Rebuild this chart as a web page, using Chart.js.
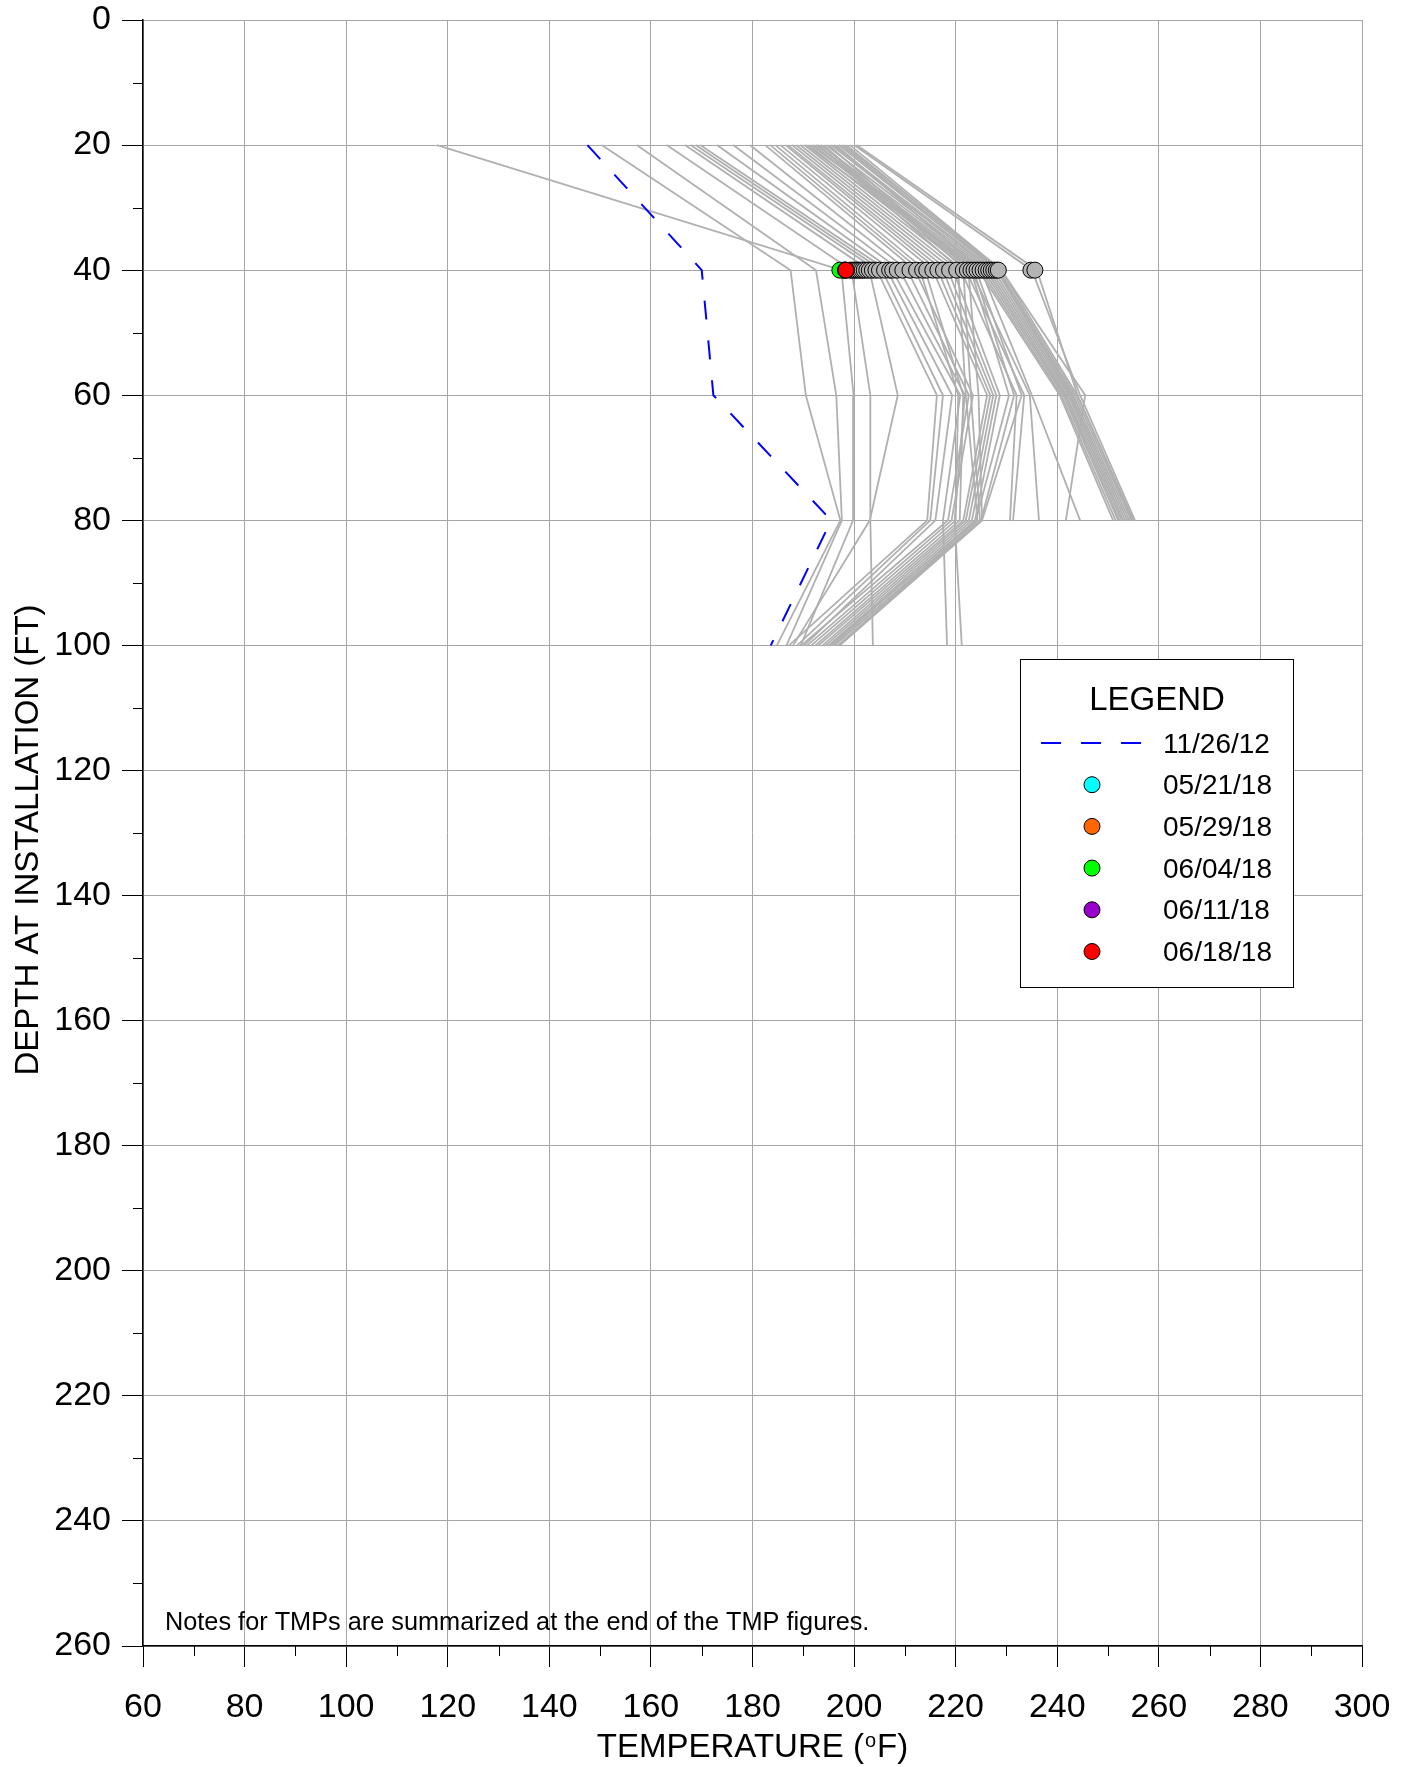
<!DOCTYPE html>
<html>
<head>
<meta charset="utf-8">
<script src="https://cdn.jsdelivr.net/npm/chart.js@4.4.1/dist/chart.umd.min.js"></script>
<style>
  html, body { margin: 0; padding: 0; background: #fff; }
  #wrap { width: 1404px; height: 1767px; position: relative; }
</style>
</head>
<body>
<div id="wrap"><canvas id="tmp"></canvas></div>
<script>
// depth of each sensor (ft)
const depthsFt = [20, 40, 60, 80, 100];

// tick labels
const tempTicks = [60, 80, 100, 120, 140, 160, 180, 200, 220, 240, 260, 280, 300];
const depthTicks = [0, 20, 40, 60, 80, 100, 120, 140, 160, 180, 200, 220, 240, 260];

// baseline profile 11/26/12 (oF at each depth)
const baselineLabel = '11/26/12';
const baselineTemps = [147.5, 170.0, 172.3, 195.5, 183.6];

// earlier readings, one profile per date (oF at 20, 40, 60, 80, 100 ft)
const historicProfiles = [
  [150.3, 187.5, 190.5, 197.3, 184.8],
  [157.2, 192.5, 196.5, 197.6, 186.7],
  [117.9, 197.5, 199.9, 199.8, 189.5],
  [163.1, 199.5, 203.2, 203.2, 203.7],
  [166.7, 203.0, 208.6, 203.1, 188.0],
  [167.8, 204.5, 216.3, 214.4, 187.2],
  [168.8, 205.5, 217.5, 215.0, 188.8],
  [169.7, 206.5, 219.3, 216.0, 190.2],
  [173.0, 207.5, 220.9, 217.5, 218.3],
  [176.2, 209.0, 221.8, 219.8, 221.2],
  [179.5, 210.5, 222.6, 218.5, 189.6],
  [182.5, 212.0, 223.4, 219.2, 190.8],
  [183.5, 213.0, 220.5, 220.0, 191.6],
  [184.5, 214.0, 221.5, 220.8, 192.4],
  [185.5, 215.5, 226.2, 221.5, 193.0],
  [186.5, 216.5, 226.8, 222.0, 193.8],
  [187.0, 217.5, 227.4, 222.6, 194.4],
  [187.8, 218.5, 228.0, 223.2, 195.0],
  [188.6, 219.5, 228.7, 223.8, 195.6],
  [189.4, 220.5, 222.0, 224.3, 196.2],
  [190.2, 221.5, 223.0, 224.8, 196.8],
  [191.0, 222.5, 224.5, 225.2, 197.2],
  [192.0, 223.0, 230.5, 224.0, 195.2],
  [192.8, 223.5, 231.5, 225.0, 196.0],
  [193.5, 224.0, 233.0, 225.2, 197.0],
  [193.0, 221.0, 232.0, 230.7, null],
  [194.0, 222.0, 233.5, 231.3, null],
  [195.0, 223.0, 234.6, 236.4, null],
  [196.5, 225.0, 235.0, 244.5, null],
  [198.0, 229.0, 245.5, 241.7, null],
  [190.5, 224.5, 240.5, 251.0, null],
  [191.5, 225.0, 240.8, 251.5, null],
  [192.5, 225.5, 241.2, 252.0, null],
  [193.5, 226.0, 241.5, 252.3, null],
  [194.5, 226.5, 241.8, 252.7, null],
  [195.5, 227.0, 242.2, 253.0, null],
  [196.0, 227.5, 242.5, 253.4, null],
  [197.0, 228.0, 242.8, 253.8, null],
  [197.5, 228.3, 243.1, 254.2, null],
  [198.5, 228.6, 243.5, 254.6, null],
  [199.2, 229.0, 243.9, 255.0, null],
  [200.0, 235.0, 244.5, 255.3, null],
  [200.5, 236.0, 244.0, 254.8, null]
];

// earlier single readings at the 40 ft sensor (oF)
const historicTemps40 = [
  199.2, 199.6, 200.0, 200.4, 200.8, 201.2, 201.6, 202.0, 202.5, 203.0,
  203.6, 204.3, 205.0, 206.0, 207.0, 207.6, 208.5, 209.6, 211.0, 212.3,
  213.5, 214.3, 215.5, 216.5, 217.6, 218.8, 220.2, 221.5, 222.3, 223.0,
  223.6, 224.2, 224.8, 225.4, 226.0, 226.5, 227.0, 227.5, 228.0, 228.4,
  234.8, 235.6
];

// recent readings at 40 ft
const recentDates = ['05/21/18', '05/29/18', '06/04/18', '06/11/18', '06/18/18'];
const recentColors = ['#00ffff', '#ff6600', '#00ff00', '#9900cc', '#ff0000'];
const recentTemps40 = [198.0, 198.1, 197.2, 198.3, 198.4];
const recentDepth = 40;

const FONT = "'Liberation Sans', Arial, Helvetica, sans-serif";

const toPoints = (temps) =>
  depthsFt.map((d, i) => ({ x: temps[i], y: d })).filter(p => p.x != null);

const datasets = [];

// colored markers: last date on top
for (let i = recentDates.length - 1; i >= 0; i--) {
  datasets.push({
    label: recentDates[i],
    data: [{ x: recentTemps40[i], y: recentDepth }],
    showLine: false,
    pointRadius: 8,
    pointBackgroundColor: recentColors[i],
    pointBorderColor: '#000',
    pointBorderWidth: 1,
    order: recentDates.length - 1 - i
  });
}

datasets.push({
  label: 'historic 40 ft',
  data: historicTemps40.map(t => ({ x: t, y: recentDepth })),
  showLine: false,
  pointRadius: 8,
  pointBackgroundColor: '#b4b4b4',
  pointBorderColor: '#000',
  pointBorderWidth: 1,
  order: 10
});

datasets.push({
  label: baselineLabel,
  data: toPoints(baselineTemps),
  showLine: true,
  borderColor: '#0000ff',
  borderWidth: 2,
  borderDash: [19, 21],
  pointRadius: 0,
  order: 11
});

historicProfiles.forEach((p, i) => {
  datasets.push({
    label: 'historic ' + i,
    data: toPoints(p),
    showLine: true,
    borderColor: '#b0b0b0',
    borderWidth: 1.8,
    pointRadius: 0,
    order: 12
  });
});

// short unlabeled ticks between the labeled ones
const minorTicks = {
  id: 'minorTicks',
  afterDraw(chart) {
    const { ctx, scales: { x, y } } = chart;
    ctx.save();
    ctx.strokeStyle = '#000';
    ctx.lineWidth = 1;
    ctx.beginPath();
    for (let i = 0; i < tempTicks.length - 1; i++) {
      const px = Math.round(x.getPixelForValue((tempTicks[i] + tempTicks[i + 1]) / 2)) + 0.5;
      ctx.moveTo(px, x.top);
      ctx.lineTo(px, x.top + 10);
    }
    for (let i = 0; i < depthTicks.length - 1; i++) {
      const py = Math.round(y.getPixelForValue((depthTicks[i] + depthTicks[i + 1]) / 2)) + 0.5;
      ctx.moveTo(y.right - 10, py);
      ctx.lineTo(y.right, py);
    }
    ctx.stroke();
    ctx.restore();
  }
};

// axis titles, note and the boxed legend
const annotations = {
  id: 'annotations',
  afterDraw(chart) {
    const { ctx, chartArea } = chart;
    ctx.save();
    ctx.fillStyle = '#000';

    // x title with small raised "o"
    const cx = (chartArea.left + chartArea.right) / 2;
    const base = 1757;
    const a = 'TEMPERATURE (', b = 'F)';
    ctx.font = '33px ' + FONT;
    const wa = ctx.measureText(a).width, wb = ctx.measureText(b).width;
    ctx.font = '20px ' + FONT;
    const wo = ctx.measureText('o').width + 2;
    const sx = cx - (wa + wo + wb) / 2;
    ctx.textBaseline = 'alphabetic';
    ctx.textAlign = 'left';
    ctx.font = '33px ' + FONT;
    ctx.fillText(a, sx, base);
    ctx.font = '20px ' + FONT;
    ctx.fillText('o', sx + wa + 1, base - 10);
    ctx.font = '33px ' + FONT;
    ctx.fillText(b, sx + wa + wo, base);

    // y title
    ctx.save();
    ctx.translate(38, 840);
    ctx.rotate(-Math.PI / 2);
    ctx.textAlign = 'center';
    ctx.font = '33px ' + FONT;
    ctx.fillText('DEPTH AT INSTALLATION (FT)', 0, 0);
    ctx.restore();

    // note
    ctx.font = '25.3px ' + FONT;
    ctx.textAlign = 'left';
    ctx.fillText('Notes for TMPs are summarized at the end of the TMP figures.', 165, 1630);

    // legend box
    const bx = 1020, by = 659, bw = 273, bh = 328;
    ctx.fillStyle = '#fff';
    ctx.fillRect(bx, by, bw, bh);
    ctx.strokeStyle = '#000';
    ctx.lineWidth = 1;
    ctx.strokeRect(bx + 0.5, by + 0.5, bw, bh);
    ctx.fillStyle = '#000';
    ctx.textAlign = 'center';
    ctx.font = '33px ' + FONT;
    ctx.fillText('LEGEND', 1157, 710);

    ctx.textAlign = 'left';
    ctx.font = '28px ' + FONT;
    const rowH = 41.7;
    const ly = 743;
    ctx.strokeStyle = '#0000ff';
    ctx.lineWidth = 2;
    ctx.setLineDash([20, 20]);
    ctx.beginPath();
    ctx.moveTo(1041, ly);
    ctx.lineTo(1143, ly);
    ctx.stroke();
    ctx.setLineDash([]);
    ctx.fillText(baselineLabel, 1163, ly + 9.5);

    recentDates.forEach((d, i) => {
      const yy = ly + rowH * (i + 1);
      ctx.beginPath();
      ctx.arc(1092, yy, 8, 0, Math.PI * 2);
      ctx.fillStyle = recentColors[i];
      ctx.fill();
      ctx.strokeStyle = '#000';
      ctx.lineWidth = 1;
      ctx.stroke();
      ctx.fillStyle = '#000';
      ctx.fillText(d, 1163, yy + 9.5);
    });
    ctx.restore();
  }
};

new Chart(document.getElementById('tmp'), {
  type: 'scatter',
  data: { datasets },
  options: {
    responsive: true,
    maintainAspectRatio: false,
    animation: false,
    events: [],
    layout: { padding: { left: 0, right: 42, top: 20, bottom: 0 } },
    plugins: { legend: { display: false }, tooltip: { enabled: false }, title: { display: false } },
    scales: {
      x: {
        type: 'linear',
        position: 'bottom',
        min: tempTicks[0],
        max: tempTicks[tempTicks.length - 1],
        afterBuildTicks: (s) => { s.ticks = tempTicks.map(v => ({ value: v })); },
        afterFit: (s) => { s.height = 121; s.paddingLeft = 0; s.paddingRight = 0; },
        ticks: { color: '#000', font: { family: FONT, size: 34 }, padding: 20, maxRotation: 0, autoSkip: false },
        grid: { color: '#a6a6a6', lineWidth: 1, tickColor: '#000', tickLength: 21, drawTicks: true },
        border: { display: true, color: '#000', width: 1.5 }
      },
      y: {
        type: 'linear',
        position: 'left',
        reverse: true,
        min: depthTicks[0],
        max: depthTicks[depthTicks.length - 1],
        afterBuildTicks: (s) => { s.ticks = depthTicks.map(v => ({ value: v })); },
        afterFit: (s) => { s.width = 143; s.paddingTop = 0; s.paddingBottom = 0; },
        ticks: { color: '#000', font: { family: FONT, size: 34 }, padding: 11, autoSkip: false },
        grid: { color: '#a6a6a6', lineWidth: 1, tickColor: '#000', tickLength: 21, drawTicks: true },
        border: { display: true, color: '#000', width: 1.5 }
      }
    }
  },
  plugins: [minorTicks, annotations]
});
</script>
</body>
</html>
